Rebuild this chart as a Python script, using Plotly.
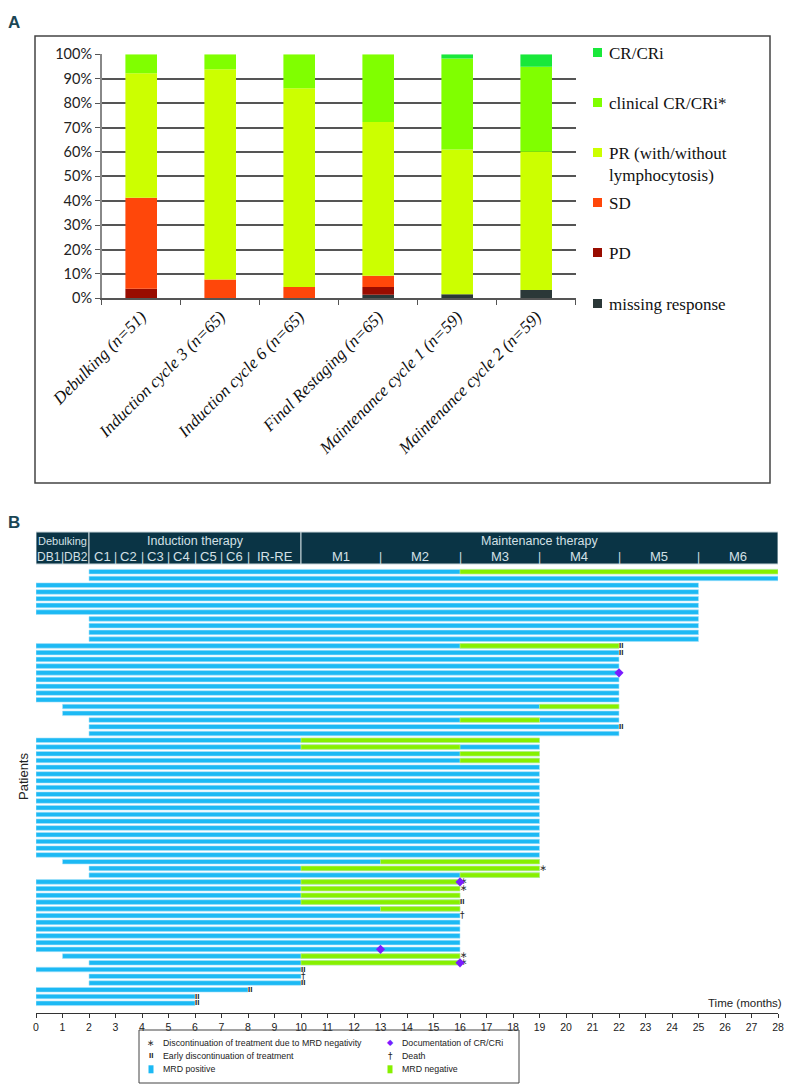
import plotly.graph_objects as go
import numpy as np

# page has an 8px body margin: figure is placed at (8, 8)
OFF = 8
W, H = 798 - OFF, 1087 - OFF

# ---------------- Panel A data (percent of patients) ----------------
categories = ["Debulking (n=51)", "Induction cycle 3 (n=65)", "Induction cycle 6 (n=65)",
              "Final Restaging (n=65)", "Maintenance cycle 1 (n=59)", "Maintenance cycle 2 (n=59)"]
missing_resp = [0.0, 0.0, 0.0, 1.5, 1.7, 3.4]
pd_resp = [3.9, 0.0, 0.0, 3.1, 0.0, 0.0]
sd_resp = [37.3, 7.7, 4.6, 4.6, 0.0, 0.0]
pr_resp = [51.0, 86.2, 81.5, 63.1, 59.3, 56.7]
clin_cr = [7.8, 6.1, 13.9, 27.7, 37.3, 34.8]
cr_cri = [0.0, 0.0, 0.0, 0.0, 1.7, 5.1]
ytick_vals = [0, 10, 20, 30, 40, 50, 60, 70, 80, 90, 100]
ytick_text = ["0%", "10%", "20%", "30%", "40%", "50%", "60%", "70%", "80%", "90%", "100%"]
legend_a = ["CR/CRi", "clinical CR/CRi*", "PR (with/without<br>lymphocytosis)", "SD", "PD", "missing response"]

# ---------------- Panel B data (months) ----------------
pat_start = [2, 2, 0, 0, 0, 0, 0, 2, 2, 2, 2,
             0, 0, 0, 0, 0, 0, 0, 0, 0, 1, 1, 2, 2, 2,
             0, 0, 0, 0] + [0] * 14 + [1, 2, 2,
             0, 0, 0, 0, 0, 0, 0, 0, 0, 0, 0, 1, 2,
             0, 2, 2, 0, 0, 0]
pat_end = [28, 28] + [25] * 9 + [22] * 14 + [19] * 21 + [16] * 13 + [10, 10, 10, 8, 6, 6]
neg_patient = [1, 12, 21, 23, 26, 27, 28, 29, 44, 45, 46, 47, 48, 49, 50, 51, 58, 59]
neg_start = [16, 16, 19, 16, 10, 10, 16, 16, 13, 10, 16, 10, 10, 10, 10, 13, 10, 10]
neg_end = [28, 22, 22, 19, 19, 16, 19, 19, 19, 19, 19, 16, 16, 16, 16, 16, 16, 16]
stop_mrd_patients = [45, 47, 48, 58, 59]
early_stop_patients = [1, 2, 12, 13, 24, 50, 60, 62, 63, 64, 65]
cr_patients = [16, 47, 57, 59]
cr_month = [22, 16, 13, 16]
death_patients = [52, 61]
month_ticks = list(range(0, 29))
phase_names = ["Debulking", "Induction therapy", "Maintenance therapy"]
phase_from = [0, 2, 10]
phase_to = [2, 10, 28]
cycle_labels = ["DB1", "DB2", "C1", "C2", "C3", "C4", "C5", "C6", "IR-RE", "M1", "M2", "M3", "M4", "M5", "M6"]
cycle_centers = [0.5, 1.5, 2.5, 3.5, 4.5, 5.5, 6.5, 7.5, 9.0, 11.5, 14.5, 17.5, 20.5, 23.5, 26.5]
cycle_separators = [1, 3, 4, 5, 6, 7, 8, 13, 16, 19, 22, 25]

patients = list(range(1, len(pat_start) + 1))


def px(x):
    return (x - OFF) / W


def py(y):
    return 1 - (y - OFF) / H


SANS = "Liberation Sans, Arial, sans-serif"
SERIF = "Liberation Serif, DejaVu Serif, serif"

fig = go.Figure()

# ---- Panel A stacked bars (overlay with explicit cumulative bases) ----
series = [(missing_resp, "#2b3838"), (pd_resp, "#990c00"), (sd_resp, "#ff470a"),
          (pr_resp, "#ccff00"), (clin_cr, "#80ff00"), (cr_cri, "#19e83a")]
cum = np.zeros(len(categories))
for vals, col in series:
    v = np.array(vals)
    fig.add_trace(go.Bar(x=categories, y=v, base=cum.copy(), width=0.4, marker_color=col,
                         marker_line_width=0, xaxis="x", yaxis="y", showlegend=False))
    cum = cum + v

# ---- Panel B swimmer bars ----
BLUE = "#1cb9f4"
GREEN = "#86f000"
fig.add_trace(go.Bar(y=patients, x=[e - s for s, e in zip(pat_start, pat_end)], base=pat_start,
                     orientation="h", width=0.68, marker_color=BLUE,
                     marker_line=dict(color="#a8e3fa", width=0.6),
                     xaxis="x2", yaxis="y2", showlegend=False))
fig.add_trace(go.Bar(y=neg_patient, x=[e - s for s, e in zip(neg_start, neg_end)], base=neg_start,
                     orientation="h", width=0.68, marker_color=GREEN,
                     marker_line=dict(color="#c6f58a", width=0.6),
                     xaxis="x2", yaxis="y2", showlegend=False))

fig.add_trace(go.Scatter(x=[pat_end[p - 1] for p in stop_mrd_patients], y=stop_mrd_patients,
                         mode="text", text=["∗"] * len(stop_mrd_patients), textposition="middle right",
                         textfont=dict(family="DejaVu Sans", size=9, color="#333"),
                         xaxis="x2", yaxis="y2", showlegend=False))
fig.add_trace(go.Scatter(x=[pat_end[p - 1] for p in early_stop_patients], y=early_stop_patients,
                         mode="text", text=["<b>II</b>"] * len(early_stop_patients), textposition="middle right",
                         textfont=dict(family=SANS, size=8, color="#222"),
                         xaxis="x2", yaxis="y2", showlegend=False))
fig.add_trace(go.Scatter(x=[pat_end[p - 1] for p in death_patients], y=death_patients,
                         mode="text", text=["†"] * len(death_patients), textposition="middle right",
                         textfont=dict(family="DejaVu Sans", size=9, color="#222"),
                         xaxis="x2", yaxis="y2", showlegend=False))
fig.add_trace(go.Scatter(x=cr_month, y=cr_patients, mode="markers",
                         marker=dict(symbol="diamond", size=7, color="#7a1cff"),
                         xaxis="x2", yaxis="y2", showlegend=False))

shapes = []
annotations = []

# ---- Panel A frame & legend ----
shapes.append(dict(type="rect", xref="paper", yref="paper", x0=px(35), x1=px(770), y0=py(483), y1=py(36),
                   line=dict(color="#444", width=1.5), layer="below"))
legend_y = [53, 103, 153, 203, 253, 304]
legend_cols = ["#19e83a", "#80ff00", "#ccff00", "#ff470a", "#990c00", "#2b3838"]
for lab, yy, col in zip(legend_a, legend_y, legend_cols):
    shapes.append(dict(type="rect", xref="paper", yref="paper", x0=px(593), x1=px(602),
                       y0=py(yy + 4), y1=py(yy - 5), fillcolor=col, line=dict(width=0)))
    annotations.append(dict(x=px(607), y=py(yy - 11), xref="paper", yref="paper", text=lab,
                            showarrow=False, xanchor="left", yanchor="top", align="left",
                            font=dict(family=SERIF, size=17, color="#111")))

annotations.append(dict(x=px(6), y=py(11), xref="paper", yref="paper", text="<b>A</b>", showarrow=False,
                        xanchor="left", yanchor="top", font=dict(family=SANS, size=17, color="#1b4654")))
annotations.append(dict(x=px(6), y=py(511), xref="paper", yref="paper", text="<b>B</b>", showarrow=False,
                        xanchor="left", yanchor="top", font=dict(family=SANS, size=17, color="#1b4654")))

# ---- Panel B header ----
HEAD = "#0a3445"
HTXT = "#d3e0e6"
for name, a, b in zip(phase_names, phase_from, phase_to):
    shapes.append(dict(type="rect", xref="x2", yref="paper", x0=a, x1=b, y0=py(564), y1=py(532),
                       fillcolor=HEAD, line=dict(color="#c9d6db", width=1)))
    annotations.append(dict(x=(a + b) / 2, y=py(540.5), xref="x2", yref="paper", text=name,
                            showarrow=False, xanchor="center", yanchor="middle",
                            font=dict(family=SANS, size=11 if name == "Debulking" else 12.5, color=HTXT)))
for lab, c in zip(cycle_labels, cycle_centers):
    annotations.append(dict(x=c, y=py(556.5), xref="x2", yref="paper", text=lab, showarrow=False,
                            xanchor="center", yanchor="middle",
                            font=dict(family=SANS, size=12 if c < 2 else 13, color=HTXT)))
for s in cycle_separators:
    annotations.append(dict(x=s, y=py(556.5), xref="x2", yref="paper", text="|", showarrow=False,
                            xanchor="center", yanchor="middle",
                            font=dict(family=SANS, size=12, color=HTXT)))

annotations.append(dict(x=px(784), y=py(1003), xref="paper", yref="paper", text="Time (months)",
                        showarrow=False, xanchor="right", yanchor="middle",
                        font=dict(family=SANS, size=11.5, color="#222")))
annotations.append(dict(x=px(23), y=py(777), xref="paper", yref="paper", text="Patients",
                        showarrow=False, textangle=-90, xanchor="center", yanchor="middle",
                        font=dict(family=SANS, size=13, color="#222")))

# ---- Panel B legend ----
shapes.append(dict(type="rect", xref="paper", yref="paper", x0=px(139), x1=px(519), y0=py(1083), y1=py(1030),
                   line=dict(color="#444", width=1)))
LEGF = dict(family=SANS, size=8.8, color="#222")
leg_b = [(151, 161, 1042.7, "∗", "Discontinuation of treatment due to MRD negativity", "#333", "DejaVu Sans", 9),
         (151, 161, 1055.7, "<b>II</b>", "Early discontinuation of treatment", "#222", SANS, 8),
         (390, 400, 1042.7, "◆", "Documentation of CR/CRi", "#7a1cff", "DejaVu Sans", 8),
         (390, 400, 1055.7, "†", "Death", "#222", "DejaVu Sans", 9)]
for sx, tx, yy, sym, lab, col, fam, fs in leg_b:
    annotations.append(dict(x=px(sx), y=py(yy), xref="paper", yref="paper", text=sym, showarrow=False,
                            xanchor="center", yanchor="middle",
                            font=dict(family=fam, size=fs, color=col)))
    annotations.append(dict(x=px(tx), y=py(yy), xref="paper", yref="paper", text=lab, showarrow=False,
                            xanchor="left", yanchor="middle", font=LEGF))
for sx, tx, yy, lab, col in [(151, 161, 1069.3, "MRD positive", BLUE), (390, 400, 1069.3, "MRD negative", GREEN)]:
    shapes.append(dict(type="rect", xref="paper", yref="paper", x0=px(sx - 2.5), x1=px(sx + 2.5),
                       y0=py(yy + 4), y1=py(yy - 4), fillcolor=col, line=dict(width=0)))
    annotations.append(dict(x=px(tx), y=py(yy), xref="paper", yref="paper", text=lab, showarrow=False,
                            xanchor="left", yanchor="middle", font=LEGF))

# ---- axes ----
row_top = 0.007
row_bot = 66.44
fig.update_layout(
    width=W, height=H, margin=dict(l=0, r=0, t=0, b=0, autoexpand=False),
    paper_bgcolor="white", plot_bgcolor="white", barmode="overlay",
    xaxis=dict(domain=[px(101.7), px(575.7)], anchor="y", type="category", automargin=False,
               tickson="boundaries", ticks="outside", ticklen=5, tickcolor="#555",
               showline=True, linecolor="#555", linewidth=1.5, tickangle=-45, showgrid=False,
               tickfont=dict(family=SERIF, size=17, style="italic", color="#111")),
    yaxis=dict(domain=[py(298.3), py(54.3)], anchor="x", range=[0, 100], automargin=False,
               tickvals=ytick_vals, ticktext=ytick_text, showgrid=True, gridcolor="#555", gridwidth=1.5,
               showline=True, linecolor="#888", linewidth=1.5, ticks="outside", ticklen=5, tickcolor="#555",
               zeroline=False, tickfont=dict(family="Lato, Liberation Sans", size=14.5, color="#222")),
    xaxis2=dict(domain=[px(36), px(778)], anchor="y2", range=[0, 28], tickvals=month_ticks, automargin=False,
                ticks="outside", ticklen=4, tickcolor="#333", showline=True, linecolor="#333", linewidth=1,
                showgrid=False, zeroline=False, tickfont=dict(family=SANS, size=10.5, color="#222")),
    yaxis2=dict(domain=[py(1013), py(565)], anchor="x2", range=[row_bot, row_top], automargin=False,
                showticklabels=False, showgrid=False, zeroline=False, showline=False, ticks=""),
    shapes=shapes, annotations=annotations,
)

fig.write_html("out.html")
